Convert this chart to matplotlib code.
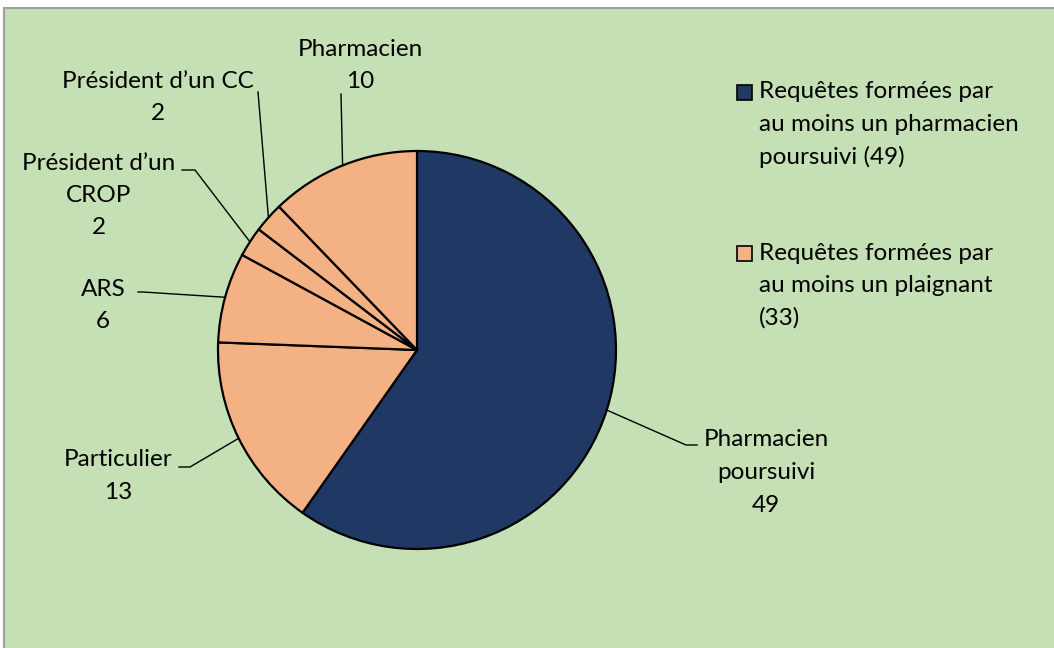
import numpy as np
import matplotlib.pyplot as plt
from matplotlib.patches import Rectangle

plt.rcParams['font.family'] = ['Lato', 'DejaVu Sans']

# data
categories = ['Pharmacien\npoursuivi', 'Particulier', 'ARS', "Président d\u2019un\nCROP",
              "Président d\u2019un CC", 'Pharmacien']
values = [49, 13, 6, 2, 2, 10]
legend_labels = ['Requêtes formées par\nau moins un pharmacien\npoursuivi (49)',
                 'Requêtes formées par\nau moins un plaignant\n(33)']

navy = '#203864'
peach = '#F4B183'
green = '#C5E0B4'
slice_colors = [navy] + [peach] * 5
legend_colors = [navy, peach]

W, H = 1054, 648
cx, cy, R = 417, 350, 199

def Y(y):
    return H - y

fig = plt.figure(figsize=(W / 100, H / 100), dpi=100)
ax = fig.add_axes([0, 0, 1, 1])
ax.set_xlim(0, W)
ax.set_ylim(0, H)
ax.set_aspect('equal')
ax.axis('off')

# chart area background + grey frame (left & top only visible)
ax.add_patch(Rectangle((4, -10), W + 10, Y(8) + 10, facecolor=green,
                       edgecolor='#A0A0A0', linewidth=1.5, zorder=0))

wedges, _ = ax.pie(values, colors=slice_colors, startangle=90, counterclock=False,
                   center=(cx, Y(cy)), radius=R,
                   wedgeprops=dict(edgecolor='black', linewidth=1.6))
ax.set_xlim(0, W)
ax.set_ylim(0, H)

# label layout: centre x, first line y, elbow, end of leader
label_x = [766, 118, 103, 99, 158, 360]
label_y = [440, 460, 289, 163, 81, 49]
elbow = [(686, 445), (190, 467), (143, 292), (195, 170), (258, 92), (341, 94)]
leader_end = [(697, 445), (179, 467), (138, 292), (182, 170), (258, 92), (341, 94)]
step = 32.5
fs = 17.5

for w, name, val, lx, ly, el, en in zip(wedges, categories, values, label_x,
                                        label_y, elbow, leader_end):
    ang = np.deg2rad((w.theta1 + w.theta2) / 2)
    px = cx + R * np.cos(ang)
    py = Y(cy) + R * np.sin(ang)
    ax.plot([px, el[0], en[0]], [py, Y(el[1]), Y(en[1])], color='black', lw=1.0,
            zorder=3)
    lines = name.split('\n') + [str(val)]
    for i, t in enumerate(lines):
        ax.text(lx, Y(ly + i * step), t, ha='center', va='center', fontsize=fs,
                color='black')

# legend
leg_y = [92, 253]
for col, lab, y0 in zip(legend_colors, legend_labels, leg_y):
    ax.add_patch(Rectangle((737, Y(y0 + 8)), 15, 15, facecolor=col,
                           edgecolor='black', linewidth=1.2, zorder=3))
    for i, t in enumerate(lab.split('\n')):
        ax.text(759, Y(y0 + i * step), t, ha='left', va='center', fontsize=fs,
                color='black')

fig.savefig('out.png', dpi=100, facecolor='white')
